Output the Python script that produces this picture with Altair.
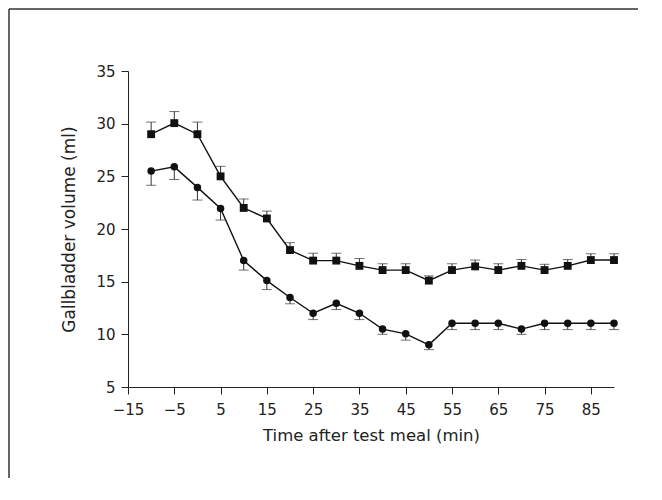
import altair as alt
import pandas as pd

times = [-10, -5, 0, 5, 10, 15, 20, 25, 30, 35, 40, 45, 50, 55, 60, 65, 70, 75, 80, 85, 90]
square_vals = [29.0, 30.05, 29.0, 25.0, 22.0, 21.0, 18.0, 17.0, 17.0, 16.5, 16.1, 16.1, 15.1,
               16.1, 16.45, 16.1, 16.5, 16.1, 16.5, 17.05, 17.05]
square_err = [1.15, 1.1, 1.15, 0.95, 0.85, 0.7, 0.7, 0.7, 0.7, 0.7, 0.6, 0.6, 0.45,
              0.6, 0.6, 0.6, 0.6, 0.55, 0.6, 0.6, 0.6]
circle_vals = [25.5, 25.9, 23.95, 21.95, 17.0, 15.1, 13.5, 12.0, 12.95, 12.0, 10.5, 10.05, 9.0,
               11.05, 11.05, 11.05, 10.5, 11.05, 11.05, 11.05, 11.05]
circle_err = [1.35, 1.2, 1.2, 1.1, 0.9, 0.85, 0.6, 0.6, 0.6, 0.6, 0.5, 0.6, 0.45,
              0.6, 0.6, 0.6, 0.5, 0.6, 0.6, 0.6, 0.6]

x_ticks = list(range(-15, 91, 5))
y_ticks = [5, 10, 15, 20, 25, 30, 35]

rows = []
for t, v, e in zip(times, square_vals, square_err):
    rows.append({"time": t, "group": "square", "value": v, "end": v + e})
for t, v, e in zip(times, circle_vals, circle_err):
    rows.append({"time": t, "group": "circle", "value": v, "end": v - e})
df = pd.DataFrame(rows)

FONT = "DejaVu Sans"

x_enc = alt.X("time:Q", scale=alt.Scale(domain=[-15, 90], nice=False, zero=False),
              axis=alt.Axis(values=x_ticks, format="d",
                            labelExpr="(datum.value + 15) % 10 == 0 ? datum.label : ''",
                            title="Time after test meal (min)", grid=False,
                            tickSize=7, labelPadding=8, titlePadding=10,
                            labelFontSize=15, titleFontSize=16.5,
                            labelFont=FONT, titleFont=FONT, titleFontWeight="normal",
                            domainColor="#222", tickColor="#222",
                            labelColor="#222", titleColor="#222", labelFlush=False))
y_scale = alt.Scale(domain=[5, 35], nice=False, zero=False)
y_axis = alt.Axis(values=y_ticks, title="Gallbladder volume (ml)", grid=False,
                  tickSize=7, labelPadding=6, titlePadding=17,
                  labelFontSize=15, titleFontSize=17,
                  labelFont=FONT, titleFont=FONT, titleFontWeight="normal",
                  domainColor="#222", tickColor="#222",
                  labelColor="#222", titleColor="#222")

base = alt.Chart(df)

stems = base.mark_rule(color="#333", strokeWidth=1).encode(
    x=x_enc, y=alt.Y("value:Q", scale=y_scale, axis=y_axis), y2="end:Q")
caps = base.mark_tick(color="#333", orient="horizontal", size=10, thickness=1).encode(
    x="time:Q", y=alt.Y("end:Q", scale=y_scale))
lines = base.mark_line(color="#111", strokeWidth=1.4).encode(
    x="time:Q", y=alt.Y("value:Q", scale=y_scale), detail="group:N")
points = base.mark_point(filled=True, opacity=1, color="#111").encode(
    x="time:Q", y=alt.Y("value:Q", scale=y_scale),
    shape=alt.Shape("group:N", scale=alt.Scale(domain=["square", "circle"],
                                                range=["square", "circle"]), legend=None),
    size=alt.Size("group:N", scale=alt.Scale(domain=["square", "circle"], range=[62, 56]),
                  legend=None))

one = pd.DataFrame({"k": [0]})
frame_top = alt.Chart(one).mark_rule(stroke="#333", strokeWidth=1.5).encode(
    x=alt.value(-119), x2=alt.value(700), y=alt.value(-62))
frame_left = alt.Chart(one).mark_rule(stroke="#333", strokeWidth=1.5).encode(
    x=alt.value(-119), y=alt.value(-62), y2=alt.value(600))

chart = alt.layer(frame_top, frame_left, stems, caps, lines, points).properties(
    width=486, height=316,
    padding={"left": 120, "top": 63, "right": 24, "bottom": 91},
    autosize="none",
).configure_view(stroke=None)

chart.save("out.html", embed_options={"renderer": "svg", "actions": False})
